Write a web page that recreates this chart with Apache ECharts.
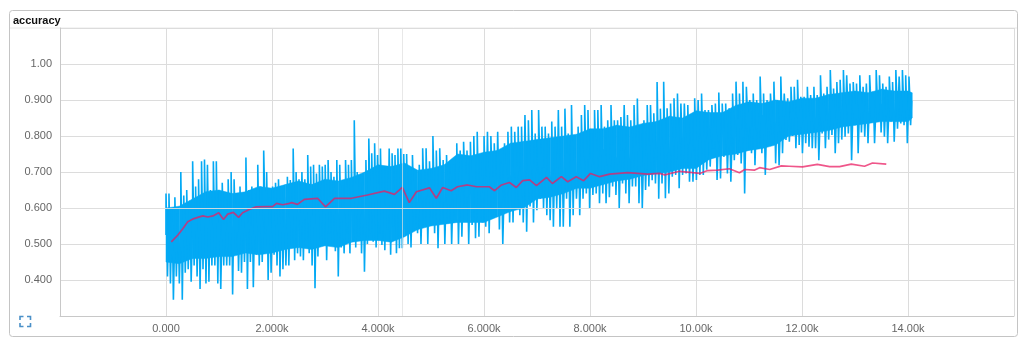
<!DOCTYPE html>
<html><head><meta charset="utf-8">
<script src="https://cdn.jsdelivr.net/npm/echarts@6/dist/echarts.min.js"></script>
<style>html,body{margin:0;padding:0;background:#fff}#c{width:1028px;height:353px;filter:blur(.4px)}</style>
</head><body><div id="c"></div>
<script>
const chartTitle = 'accuracy';
const xTicks = {0:'0.000',2000:'2.000k',4000:'4.000k',6000:'6.000k',8000:'8.000k',10000:'10.00k',12000:'12.00k',14000:'14.00k'};
const yTicks = {4:'0.400',5:'0.500',6:'0.600',7:'0.700',8:'0.800',9:'0.900',10:'1.00'};
const sectionEnds = [0,2290,4650,7030,9390,11730,14080];
const hi0 = [.64,.64,.60,.63,.60,.70,.635,.65,.62,.73,.66,.68,.73,.735,.72,.65,.73,.73,.64,.67,.63,.68,.70,.68,.64,.66,.63,.74,.65,.66,.64,.72,.66,.76,.70,.63,.66,.67,.68,.66,.63];
const lo0 = [.41,.39,.345,.41,.39,.345,.42,.43,.395,.44,.41,.375,.43,.39,.395,.44,.44,.39,.375,.44,.44,.44,.36,.49,.425,.42,.45,.375,.45,.38,.47,.44,.45,.53,.40,.42,.47,.44,.41,.43,.44];
const hi1 = [.687,.678,.765,.70,.68,.70,.68,.747,.715,.72,.696,.72,.715,.72,.733,.70,.687,.733,.72,.663,.733,.72,.733,.844,.70,.69,.687,.733,.793,.752,.78,.747,.765,.715,.705,.765,.752,.747,.765,.765,.75,.75,.705];
const lo1 = [.44,.50,.455,.474,.465,.455,.51,.474,.44,.377,.465,.52,.50,.455,.53,.50,.48,.41,.49,.474,.53,.474,.51,.49,.52,.474,.423,.50,.53,.506,.49,.53,.497,.483,.54,.47,.548,.474,.488,.488,.54,.50,.49];
const hi2 = [.747,.705,.72,.766,.766,.73,.80,.76,.766,.733,.747,.72,.72,.78,.76,.784,.76,.784,.80,.812,.733,.80,.812,.80,.78,.812,.733,.78,.812,.826,.812,.826,.826,.858,.844,.872,.807];
const lo2 = [.54,.53,.50,.553,.50,.558,.53,.488,.56,.50,.558,.50,.576,.50,.52,.604,.50,.553,.516,.52,.56,.548,.53,.576,.576,.54,.50,.604,.56,.56,.622,.58,.56,.534,.604,.56,.594];
const hi3 = [.872,.826,.826,.807,.84,.826,.872,.826,.876,.807,.886,.765,.826,.858,.886,.872,.807,.872,.872,.886,.826,.844,.886,.844,.844,.853,.886,.858,.844,.886,.904,.83,.844,.886,.886,.863,.95,.876];
const lo3 = [.626,.60,.58,.566,.548,.60,.548,.548,.626,.548,.58,.626,.58,.626,.64,.60,.636,.64,.613,.64,.613,.63,.66,.636,.60,.668,.64,.613,.66,.66,.613,.60,.65,.66,.677,.668,.626,.668];
const hi4 = [.951,.877,.89,.905,.918,.89,.89,.886,.849,.905,.90,.918,.872,.872,.886,.89,.921,.89,.89,.877,.918,.951,.918,.951,.937,.90,.918,.90,.965,.918,.90,.918,.951,.90,.965,.918];
const lo4 = [.627,.64,.687,.692,.655,.692,.696,.673,.673,.678,.692,.692,.706,.715,.766,.678,.682,.742,.696,.673,.733,.747,.724,.64,.798,.752,.719,.766,.752,.692,.789,.803,.724,.719,.752,.789];
const hi5 = [.905,.937,.937,.956,.909,.909,.937,.914,.937,.914,.969,.918,.937,.983,.932,.95,.956,.983,.969,.946,.95,.946,.969,.937,.946,.969,.923,.983,.969,.946,.937,.965,.95,.983,.965,.983,.969,.965];
const lo5 = [.784,.80,.766,.775,.752,.78,.77,.766,.766,.733,.807,.766,.79,.803,.752,.78,.79,.798,.807,.733,.83,.752,.81,.798,.78,.849,.78,.84,.81,.798,.78,.84,.784,.82,.835,.83,.78,.83];
const coreSteps = [0,250,500,750,1000,1250,1500,1750,2000,2250,2500,2750,3000,3250,3500,3750,4000,4250,4500,4750,5000,5250,5500,5750,6000,6250,6500,6750,7000,7250,7500,7750,8000,8250,8500,8750,9000,9250,9500,9750,10000,10250,10500,10750,11000,11250,11500,11750,12000,12250,12500,12750,13000,13250,13500,13750,14000,14080];
const coreTop = [.60,.605,.625,.645,.65,.64,.645,.66,.655,.665,.675,.665,.68,.675,.685,.70,.72,.715,.725,.705,.71,.72,.75,.745,.755,.76,.78,.785,.79,.795,.80,.805,.82,.82,.83,.825,.835,.84,.855,.85,.87,.865,.865,.885,.895,.89,.90,.895,.905,.905,.915,.92,.925,.92,.93,.925,.925,.92];
const coreBottom = [.45,.445,.46,.46,.465,.465,.475,.47,.475,.485,.49,.485,.495,.49,.505,.51,.51,.505,.52,.54,.55,.555,.56,.56,.56,.575,.59,.60,.625,.63,.64,.655,.655,.665,.675,.68,.69,.695,.70,.71,.71,.735,.745,.75,.76,.765,.775,.80,.805,.81,.815,.825,.83,.835,.84,.84,.84,.85];
const evalSteps = [100,225,320,410,500,600,695,790,885,995,1085,1165,1270,1370,1445,1570,1700,1895,2010,2085,2200,2310,2370,2480,2610,2860,3010,3180,3500,3800,4120,4310,4460,4590,4725,4970,5100,5220,5380,5500,5690,5860,6100,6200,6330,6480,6610,6730,6860,6990,7180,7290,7460,7580,7740,7880,8010,8180,8370,8710,9090,9310,9410,9690,9940,10070,10220,10410,10630,10820,10920,11100,11200,11390,11610,11760,12010,12290,12520,12710,12930,13180,13330,13590];
const evalAcc = [.506,.525,.543,.562,.569,.574,.578,.575,.578,.587,.568,.583,.588,.574,.587,.596,.603,.604,.604,.613,.609,.612,.615,.61,.624,.627,.603,.627,.627,.636,.647,.638,.657,.615,.645,.656,.627,.657,.648,.659,.664,.659,.659,.648,.664,.671,.657,.676,.678,.662,.685,.668,.687,.673,.687,.676,.696,.687,.694,.698,.694,.696,.692,.702,.698,.696,.704,.705,.709,.698,.707,.705,.712,.707,.717,.716,.714,.721,.715,.715,.722,.716,.725,.722];
const markerStep = 4460, markerAcc = 0.605;

const hiSecs = [hi0,hi1,hi2,hi3,hi4,hi5], loSecs = [lo0,lo1,lo2,lo3,lo4,lo5];
const trainData = [];
hiSecs.forEach((hi,s)=>{
  const a = sectionEnds[s], p = (sectionEnds[s+1]-a)/hi.length;
  hi.forEach((v,i)=>{
    const x = a+p*i, l = loSecs[s][i], m = (v+l)/2;
    trainData.push([x,m],[x,v],[x+p*.3,v],[x+p*.3,m],[x+p*.5,m],[x+p*.5,l],[x+p*.8,l],[x+p*.8,m]);
  });
});
const evalData = evalSteps.map((s,i)=>[s,evalAcc[i]]);
const coreData = coreSteps.map((s,i)=>[s,coreBottom[i],coreTop[i]]);
const blue = '#03a9f4';
const font = '"Liberation Sans",Helvetica,Arial,sans-serif';
const chart = echarts.init(document.getElementById('c'),null,{renderer:'canvas'});
chart.setOption({
  animation:false,
  backgroundColor:'#fff',
  title:{text:chartTitle,left:13,top:15,textStyle:{fontFamily:font,fontSize:11,fontWeight:'bold',color:'#111'},padding:0},
  grid:{left:60,right:14,top:28,bottom:37,containLabel:false},
  xAxis:{type:'value',min:-2000,max:16000,interval:2000,
    axisLine:{show:true,onZero:false,lineStyle:{color:'#c8c8c8'}},axisTick:{show:false},
    splitLine:{show:true,lineStyle:{color:'#dcdcdc',width:1}},
    axisLabel:{color:'#666',fontFamily:font,fontSize:11,margin:7,formatter:v=>xTicks[v]||''}},
  yAxis:{type:'value',min:0.3,max:1.1,interval:0.1,
    axisLine:{show:true,onZero:false,lineStyle:{color:'#c8c8c8'}},axisTick:{show:false},
    splitLine:{show:true,lineStyle:{color:'#dcdcdc',width:1}},
    axisLabel:{color:'#666',fontFamily:font,fontSize:11,margin:8,formatter:v=>yTicks[Math.round(v*10)]||''}},
  series:[
    {type:'custom',name:'core',data:coreData,encode:{x:0,y:[1,2]},z:2,silent:true,
     renderItem:(params,api)=>{
       const i = params.dataIndex;
       if(i>=coreData.length-1) return {type:'group',children:[]};
       const n = coreData[i+1];
       const pts = [api.coord([api.value(0),api.value(1)]),api.coord([api.value(0),api.value(2)]),api.coord([n[0],n[2]]),api.coord([n[0],n[1]])];
       return {type:'polygon',shape:{points:pts},style:{fill:blue,stroke:blue,lineWidth:.5}};
     }},
    {type:'line',name:'train',data:trainData,showSymbol:false,lineStyle:{color:blue,width:1.6},itemStyle:{color:blue},z:3,
     markLine:{silent:true,symbol:'none',label:{show:false},animation:false,
       lineStyle:{color:'rgba(222,222,222,.7)',width:1,type:'solid'},
       data:[{xAxis:markerStep},{yAxis:markerAcc},{yAxis:0.6}]}},
    {type:'line',name:'eval',data:evalData,showSymbol:false,lineStyle:{color:'#e91e63',width:1.7,opacity:.75},itemStyle:{color:'#e91e63'},z:4}
  ],
  graphic:[
    {type:'rect',shape:{x:9.5,y:10.5,width:1008,height:326,r:3},style:{fill:'none',stroke:'#c4c4c4',lineWidth:1},silent:true,z:0},
    {type:'line',shape:{x1:10,y1:28,x2:1017,y2:28},style:{stroke:'#e8e8e8',lineWidth:1},silent:true,z:0},
    {type:'polyline',shape:{points:[[20,320],[20,316.5],[23.5,316.5]]},style:{fill:'none',stroke:'#4a90c8',lineWidth:1.6},silent:true},
    {type:'polyline',shape:{points:[[27,316.5],[30.5,316.5],[30.5,320]]},style:{fill:'none',stroke:'#4a90c8',lineWidth:1.6},silent:true},
    {type:'polyline',shape:{points:[[20,323],[20,326.5],[23.5,326.5]]},style:{fill:'none',stroke:'#4a90c8',lineWidth:1.6},silent:true},
    {type:'polyline',shape:{points:[[27,326.5],[30.5,326.5],[30.5,323]]},style:{fill:'none',stroke:'#4a90c8',lineWidth:1.6},silent:true}
  ]
});
</script></body></html>
